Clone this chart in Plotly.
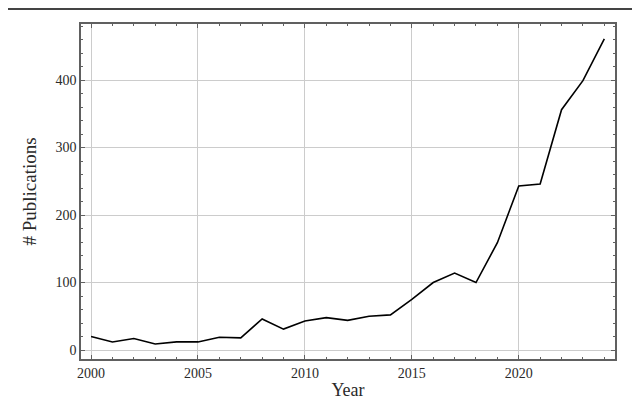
import plotly.graph_objects as go

# publications per year
years = list(range(2000, 2025))
publications = [20, 12, 17, 9, 12, 12, 19, 18, 46, 31, 43, 48, 44, 50, 52,
                75, 100, 114, 100, 159, 243, 246, 356, 399, 461]

x_ticks = [2000, 2005, 2010, 2015, 2020]
y_ticks = [0, 100, 200, 300, 400]

FONT = "Liberation Serif"
FRAME = "#606060"
TEXT = "#2a2a2a"

fig = go.Figure()
fig.add_trace(go.Scatter(x=years, y=publications, mode="lines",
                         line=dict(color="black", width=1.6), showlegend=False))

# automargin off so the margins below stay exactly as set
axis_style = dict(showline=True, mirror="ticks", linecolor=FRAME, linewidth=1.5,
                  ticks="inside", ticklen=4, tickcolor=FRAME, tickwidth=1,
                  showgrid=True, gridcolor="#cccccc", gridwidth=1, zeroline=False,
                  automargin=False,
                  tickfont=dict(family=FONT, size=14, color=TEXT))

fig.update_xaxes(range=[1999.53, 2024.5], tickvals=x_ticks,
                 minor=dict(dtick=1, ticks="inside", ticklen=2, tickcolor=FRAME, showgrid=False),
                 title=dict(text="Year", font=dict(family=FONT, size=18, color=TEXT), standoff=4),
                 **axis_style)
fig.update_yaxes(range=[-13.3, 483], tickvals=y_ticks,
                 minor=dict(dtick=20, ticks="inside", ticklen=2, tickcolor=FRAME, showgrid=False),
                 title=dict(text="# Publications", font=dict(family=FONT, size=19, color=TEXT), standoff=14),
                 **axis_style)

# thin dark rule across the top of the page
fig.add_shape(type="line", xref="paper", yref="paper", x0=-0.2, x1=1.1, y0=1.045, y1=1.045,
              line=dict(color="#444444", width=2))

# the page body adds an 8px offset, so the plot area is shifted to land where the reference has it
fig.update_layout(width=640, height=403, margin=dict(l=73, r=33, t=16, b=52),
                  plot_bgcolor="white", paper_bgcolor="white")
fig.write_html("out.html")
